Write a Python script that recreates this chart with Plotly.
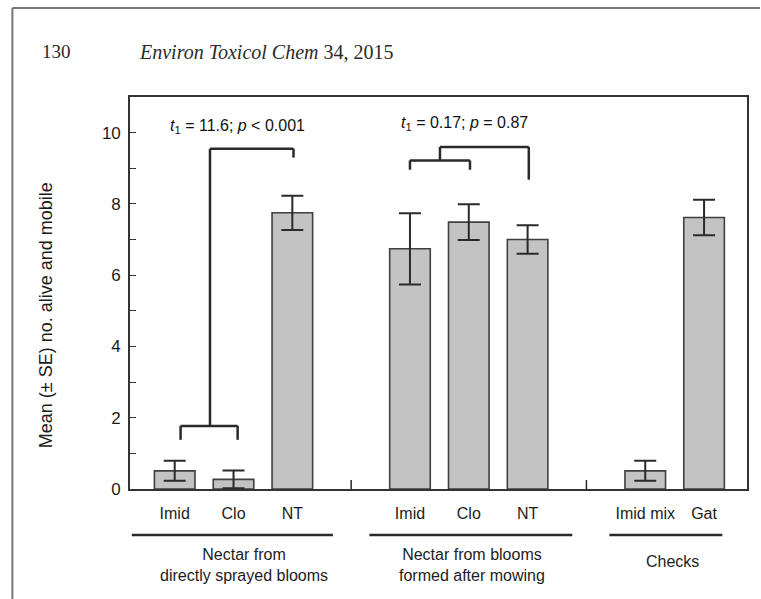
import plotly.graph_objects as go

# ---------------- data ----------------
categories = ["Imid", "Clo", "NT", "Imid", "Clo", "NT", "Imid mix", "Gat"]
means = [0.51, 0.27, 7.75, 6.74, 7.49, 7.0, 0.51, 7.62]
se = [0.28, 0.25, 0.48, 1.0, 0.5, 0.4, 0.28, 0.5]
group_labels = ["Nectar from<br>directly sprayed blooms",
                "Nectar from blooms<br>formed after mowing",
                "Checks"]
stat_labels = ["<i>t</i><sub>1</sub> = 11.6; <i>p</i> &lt; 0.001",
               "<i>t</i><sub>1</sub> = 0.17; <i>p</i> = 0.87"]
y_ticks = [0, 2, 4, 6, 8, 10]
y_ticktext = ["0", "2", "4", "6", "8", "10"]

# ---------------- layout helpers ----------------
W, H = 761, 599
L, R, T, B = 130, 749, 97, 489
x_pos = [0, 1, 2, 4, 5, 6, 8, 9]
XMIN, XMAX = -0.76, 9.73
YMIN, YMAX = 0, 11.0


def px_x(p):
    return (p - L) / (R - L)


def px_y(p):
    return (B - p) / (B - T)


FONT = "Liberation Sans, Arial, sans-serif"
SERIF = "Liberation Serif, Times New Roman, serif"
DARK = "#2a2a2a"
TXT = "#1c1c1c"

fig = go.Figure()
fig.add_trace(go.Bar(
    x=x_pos, y=means,
    width=0.69,
    marker=dict(color="#c3c3c3", line=dict(color="#404040", width=1.6)),
    error_y=dict(type="data", array=se, visible=True, color=DARK,
                 thickness=2, width=11),
    showlegend=False,
))

shapes = []


def seg(x0, y0, x1, y1, w=2.5, xref="x", yref="y", color=DARK):
    shapes.append(dict(type="line", x0=x0, y0=y0, x1=x1, y1=y1,
                       xref=xref, yref=yref,
                       line=dict(color=color, width=w)))


# bracket 1 (Imid+Clo vs NT, directly sprayed)
seg(0.1, 1.38, 0.1, 1.77)
seg(0.1, 1.77, 1.07, 1.77)
seg(1.07, 1.77, 1.07, 1.38)
seg(0.6, 1.77, 0.6, 9.55)
seg(0.6, 9.55, 2.02, 9.55)
seg(2.02, 9.55, 2.02, 9.3)
# bracket 2 (after mowing)
seg(4.0, 8.96, 4.0, 9.22)
seg(4.0, 9.22, 5.02, 9.22)
seg(5.02, 9.22, 5.02, 8.96)
seg(4.51, 9.22, 4.51, 9.6)
seg(4.51, 9.6, 6.02, 9.6)
seg(6.02, 9.6, 6.02, 8.68)
# separator ticks on the x axis
seg(3, 0, 3, 0.25, w=1.5)
seg(7, 0, 7, 0.25, w=1.5)
# group underlines
yl = px_y(535)
seg(-0.73, yl, 2.69, yl, w=2.5, yref="paper")
seg(3.31, yl, 6.76, yl, w=2.5, yref="paper")
seg(7.39, yl, 9.31, yl, w=2.5, yref="paper")
# page frame (left and top)
seg(px_x(12), px_y(8), px_x(12), px_y(600), w=2, xref="paper", yref="paper",
    color="#777777")
seg(px_x(12), px_y(8), px_x(762), px_y(8), w=2, xref="paper", yref="paper",
    color="#777777")

annotations = []


def note(x, y, text, size, family=FONT, color=TXT, xref="paper",
         yref="paper", xanchor="center", yanchor="middle", **kw):
    annotations.append(dict(x=x, y=y, xref=xref, yref=yref, text=text,
                            showarrow=False, xanchor=xanchor,
                            yanchor=yanchor,
                            font=dict(family=family, size=size, color=color),
                            **kw))


# stats
note(px_x(238), px_y(126), stat_labels[0], 16, color="#111")
note(px_x(466), px_y(123), stat_labels[1], 16, color="#111")
# group labels
gl_x = [244, 473, 674]
gl_y = [565, 565, 561]
for t, gx, gy in zip(group_labels, gl_x, gl_y):
    note(px_x(gx), px_y(gy), t, 16)
# y axis title
note(px_x(46), px_y(315), "Mean (± SE) no. alive and mobile", 18,
     textangle=-90)
# header
note(px_x(40), px_y(52), "130", 19, family=SERIF, color="#2a2a2a",
     xanchor="left")
note(px_x(137), px_y(52), "<i>Environ Toxicol Chem</i> 34, 2015", 20,
     family=SERIF, color="#2a2a2a", xanchor="left")

fig.update_layout(
    width=W, height=H,
    margin=dict(l=L, r=W - R, t=T, b=H - B, pad=0),
    paper_bgcolor="white", plot_bgcolor="white",
    shapes=shapes, annotations=annotations,
    bargap=0.3,
    xaxis=dict(range=[XMIN, XMAX], tickvals=x_pos, ticktext=categories,
               showline=True, mirror=True, linecolor="#333", linewidth=1.6,
               ticks="", showgrid=False, zeroline=False,
               tickfont=dict(family=FONT, size=16, color=TXT),
               ticklabelstandoff=9, fixedrange=True),
    yaxis=dict(range=[YMIN, YMAX], tickvals=y_ticks, ticktext=y_ticktext,
               showline=True, mirror=True, linecolor="#333", linewidth=1.6,
               ticks="inside", ticklen=6, tickwidth=1.4, tickcolor="#333",
               minor=dict(ticks="inside", dtick=1, tick0=0, ticklen=6,
                          tickwidth=1.4, tickcolor="#333", showgrid=False),
               showgrid=False, zeroline=False,
               tickfont=dict(family=FONT, size=17, color=TXT),
               ticklabelstandoff=4, fixedrange=True),
)

fig.write_html("out.html", config={"displayModeBar": False},
               post_script="document.body.style.margin='0px';")
